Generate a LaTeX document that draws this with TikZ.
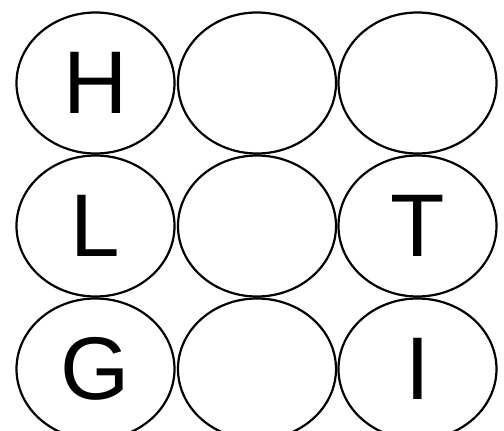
\documentclass[tikz,border=0pt]{standalone}
\usepackage{fontspec}
\setmainfont{Liberation Sans}
\usetikzlibrary{shapes.geometric}
\tikzset{
  cell/.style={draw=black, line width=2.2pt, ellipse, inner sep=0pt,
    minimum width=158pt, minimum height=141pt,
    font=\fontsize{89}{89}\selectfont},
}
\begin{document}
\begin{tikzpicture}[x=1pt,y=1pt]
\useasboundingbox (0,0) rectangle (504,431);
\node[cell] (a1) at (95.5,348) {H};
\node[cell] (a2) at (257,348) {};
\node[cell] (a3) at (417.5,348) {};
\node[cell] (b1) at (95.5,205) {L};
\node[cell] (b2) at (257,205) {};
\node[cell] (b3) at (417.5,205) {T};
\node[cell] (c1) at (95.5,62) {G};
\node[cell] (c2) at (257,62) {};
\node[cell] (c3) at (417.5,62) {I};
\end{tikzpicture}
\end{document}
